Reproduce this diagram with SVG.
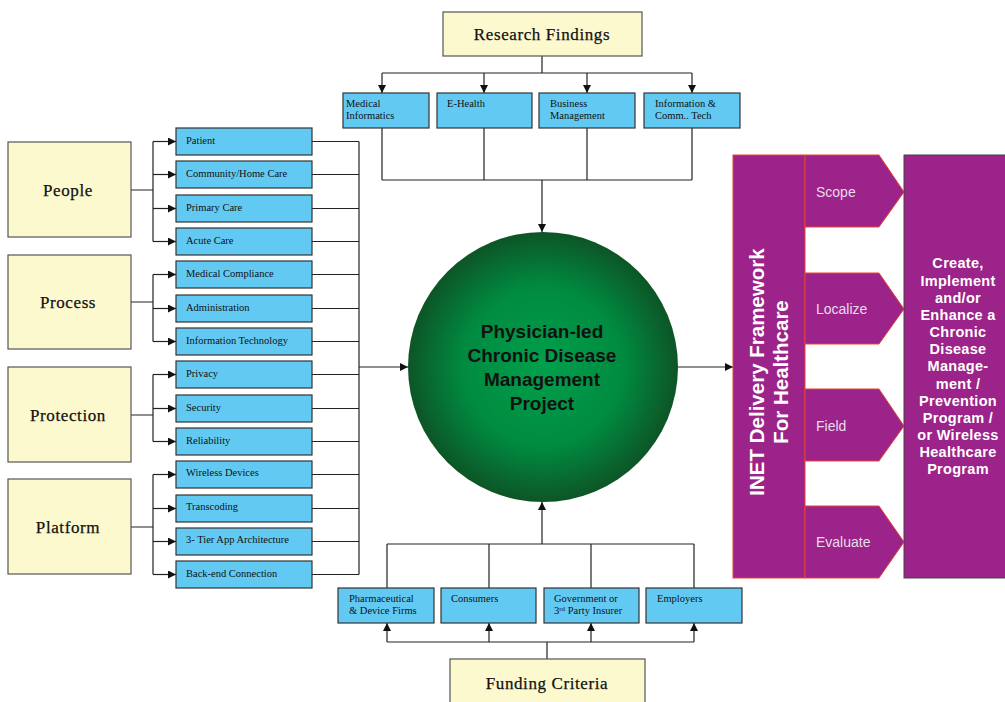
<svg xmlns="http://www.w3.org/2000/svg" width="1005" height="702" viewBox="0 0 1005 702">
<defs>
<style>
.cat{fill:#fcf9cf;stroke:#555;stroke-width:1.2}
.catt{font-family:"Liberation Serif",serif;font-size:17px;fill:#111;text-anchor:middle;letter-spacing:0.6px;stroke:#111;stroke-width:0.25}
.blue{fill:#62caf2;stroke:#333;stroke-width:1.2}
.bt{font-family:"Liberation Serif",serif;font-size:10.5px;fill:#111}
.ln{stroke:#222;stroke-width:1.2;fill:none}
.arr{stroke:#222;stroke-width:1.2;fill:none;marker-end:url(#ah)}
.pur{fill:#9b2389;stroke:#e8442e;stroke-width:1}
.tab{font-family:"Liberation Sans",sans-serif;font-size:14px;fill:#eadcea}
.wt{font-family:"Liberation Sans",sans-serif;font-size:14.5px;font-weight:bold;fill:#fff;text-anchor:middle;letter-spacing:0.3px}
.vt{font-family:"Liberation Sans",sans-serif;font-size:20.5px;font-weight:bold;fill:#fff;text-anchor:middle}
.ct{font-family:"Liberation Sans",sans-serif;font-size:19px;font-weight:bold;fill:#111;text-anchor:middle}
</style>
<marker id="ah" markerUnits="userSpaceOnUse" markerWidth="9" markerHeight="9" refX="8" refY="4" orient="auto"><path d="M0,0 L8,4 L0,8 z" fill="#111"/></marker>
<radialGradient id="cg" cx="50%" cy="50%" r="50%">
<stop offset="0" stop-color="#00a04c"/>
<stop offset="0.6" stop-color="#008a40"/>
<stop offset="1" stop-color="#0d5526"/>
</radialGradient>
</defs>

<g id="connectors">
<path class="ln" d="M542,56 V73 M382,73 H692"/>
<path class="arr" d="M382,73 V93"/>
<path class="arr" d="M484,73 V93"/>
<path class="arr" d="M587,73 V93"/>
<path class="arr" d="M692,73 V93"/>
<path class="ln" d="M382,128 V180 M484,128 V180 M587,128 V180 M692,128 V180 M382,180 H692"/>
<path class="arr" d="M542,180 V232"/>
<path class="ln" d="M547,659 V642 M387,642 H694"/>
<path class="arr" d="M387,642 V623"/>
<path class="arr" d="M489,642 V623"/>
<path class="arr" d="M591,642 V623"/>
<path class="arr" d="M694,642 V623"/>
<path class="ln" d="M387,588 V544 M489,588 V544 M591,588 V544 M694,588 V544 M387,544 H694"/>
<path class="arr" d="M542,544 V502"/>
<path class="ln" d="M131,190 H153 M153,141.5 V241.5"/>
<path class="arr" d="M153,141.5 H176"/>
<path class="arr" d="M153,174.5 H176"/>
<path class="arr" d="M153,208.5 H176"/>
<path class="arr" d="M153,241.5 H176"/>
<path class="ln" d="M131,302 H153 M153,274.5 V341.5"/>
<path class="arr" d="M153,274.5 H176"/>
<path class="arr" d="M153,308.5 H176"/>
<path class="arr" d="M153,341.5 H176"/>
<path class="ln" d="M131,415 H153 M153,374.5 V441.5"/>
<path class="arr" d="M153,374.5 H176"/>
<path class="arr" d="M153,408.5 H176"/>
<path class="arr" d="M153,441.5 H176"/>
<path class="ln" d="M131,527 H153 M153,474.5 V574.5"/>
<path class="arr" d="M153,474.5 H176"/>
<path class="arr" d="M153,508.5 H176"/>
<path class="arr" d="M153,541.5 H176"/>
<path class="arr" d="M153,574.5 H176"/>
<path class="ln" d="M312,141.5 H359 M312,174.5 H359 M312,208.5 H359 M312,241.5 H359 M312,274.5 H359 M312,308.5 H359 M312,341.5 H359 M312,374.5 H359 M312,408.5 H359 M312,441.5 H359 M312,474.5 H359 M312,508.5 H359 M312,541.5 H359 M312,574.5 H359 M359,141.5 V574.5"/>
<path class="arr" d="M359,367 H408"/>
<path class="arr" d="M678,367 H733"/>
</g>

<g id="research-findings">
<rect class="cat" x="443" y="12" width="199" height="44"/>
<text class="catt" x="542" y="40">Research Findings</text>
</g>
<g id="medical-informatics">
<rect class="blue" x="343" y="93" width="86" height="35"/>
<text class="bt" x="346" y="107">Medical</text>
<text class="bt" x="346" y="119">Informatics</text>
</g>
<g id="e-health">
<rect class="blue" x="437" y="93" width="95" height="35"/>
<text class="bt" x="447" y="107">E-Health</text>
</g>
<g id="business-management">
<rect class="blue" x="539" y="93" width="96" height="35"/>
<text class="bt" x="550" y="107">Business</text>
<text class="bt" x="550" y="119">Management</text>
</g>
<g id="ict">
<rect class="blue" x="644" y="93" width="96" height="35"/>
<text class="bt" x="655" y="107">Information &amp;</text>
<text class="bt" x="655" y="119">Comm.. Tech</text>
</g>

<g id="people">
<rect class="cat" x="8" y="142" width="123" height="95"/>
<text class="catt" x="68" y="196">People</text>
</g>
<g id="process">
<rect class="cat" x="8" y="255" width="123" height="94"/>
<text class="catt" x="68" y="308">Process</text>
</g>
<g id="protection">
<rect class="cat" x="8" y="367" width="123" height="95"/>
<text class="catt" x="68" y="421">Protection</text>
</g>
<g id="platform">
<rect class="cat" x="8" y="479" width="123" height="95"/>
<text class="catt" x="68" y="533">Platform</text>
</g>

<g id="patient"><rect class="blue" x="176" y="128" width="136" height="27"/><text class="bt" x="186" y="144">Patient</text></g>
<g id="community"><rect class="blue" x="176" y="161" width="136" height="27"/><text class="bt" x="186" y="177">Community/Home Care</text></g>
<g id="primary"><rect class="blue" x="176" y="195" width="136" height="27"/><text class="bt" x="186" y="211">Primary Care</text></g>
<g id="acute"><rect class="blue" x="176" y="228" width="136" height="27"/><text class="bt" x="186" y="244">Acute Care</text></g>
<g id="compliance"><rect class="blue" x="176" y="261" width="136" height="27"/><text class="bt" x="186" y="277">Medical Compliance</text></g>
<g id="administration"><rect class="blue" x="176" y="295" width="136" height="27"/><text class="bt" x="186" y="311">Administration</text></g>
<g id="infotech"><rect class="blue" x="176" y="328" width="136" height="27"/><text class="bt" x="186" y="344">Information Technology</text></g>
<g id="privacy"><rect class="blue" x="176" y="361" width="136" height="27"/><text class="bt" x="186" y="377">Privacy</text></g>
<g id="security"><rect class="blue" x="176" y="395" width="136" height="27"/><text class="bt" x="186" y="411">Security</text></g>
<g id="reliability"><rect class="blue" x="176" y="428" width="136" height="27"/><text class="bt" x="186" y="444">Reliability</text></g>
<g id="wireless"><rect class="blue" x="176" y="461" width="136" height="27"/><text class="bt" x="186" y="476">Wireless Devices</text></g>
<g id="transcoding"><rect class="blue" x="176" y="495" width="136" height="27"/><text class="bt" x="186" y="510">Transcoding</text></g>
<g id="three-tier"><rect class="blue" x="176" y="528" width="136" height="27"/><text class="bt" x="186" y="543">3- Tier App Architecture</text></g>
<g id="backend"><rect class="blue" x="176" y="561" width="136" height="27"/><text class="bt" x="186" y="577">Back-end Connection</text></g>

<g id="project">
<circle cx="543" cy="367" r="135" fill="url(#cg)"/>
<text class="ct" x="542" y="338">Physician-led</text>
<text class="ct" x="542" y="362">Chronic Disease</text>
<text class="ct" x="542" y="386">Management</text>
<text class="ct" x="542" y="410">Project</text>
</g>

<g id="pharma"><rect class="blue" x="338" y="588" width="96" height="35"/><text class="bt" x="349" y="602">Pharmaceutical</text><text class="bt" x="349" y="614">&amp; Device Firms</text></g>
<g id="consumers"><rect class="blue" x="441" y="588" width="95" height="35"/><text class="bt" x="451" y="602">Consumers</text></g>
<g id="government"><rect class="blue" x="544" y="588" width="95" height="35"/><text class="bt" x="554" y="602">Government or</text><text class="bt" x="554" y="614">3<tspan font-size="7" dy="-3">rd</tspan><tspan dy="3"> Party Insurer</tspan></text></g>
<g id="employers"><rect class="blue" x="646" y="588" width="96" height="35"/><text class="bt" x="657" y="602">Employers</text></g>

<g id="funding-criteria">
<rect class="cat" x="450" y="659" width="195" height="50"/>
<text class="catt" x="547" y="689">Funding Criteria</text>
</g>

<g id="inet-framework">
<rect class="pur" x="733" y="155" width="72" height="423"/>
<text class="vt" transform="translate(764,372) rotate(-90)">INET Delivery Framework</text>
<text class="vt" transform="translate(788,372) rotate(-90)">For Healthcare</text>
</g>
<g id="scope"><path class="pur" d="M805,155 H879 L904,192 L879,227 H805 Z"/><text class="tab" x="816" y="197">Scope</text></g>
<g id="localize"><path class="pur" d="M805,273 H879 L904,309 L879,344 H805 Z"/><text class="tab" x="816" y="314">Localize</text></g>
<g id="field"><path class="pur" d="M805,389 H879 L904,426 L879,461 H805 Z"/><text class="tab" x="816" y="431">Field</text></g>
<g id="evaluate"><path class="pur" d="M805,506 H879 L904,542 L879,578 H805 Z"/><text class="tab" x="816" y="547">Evaluate</text></g>

<g id="outcome">
<rect x="904" y="155" width="105" height="423" fill="#9b2389" stroke="#444" stroke-width="1"/>
<text class="wt" x="958" y="268">Create,</text>
<text class="wt" x="958" y="286">Implement</text>
<text class="wt" x="958" y="303">and/or</text>
<text class="wt" x="958" y="320">Enhance a</text>
<text class="wt" x="958" y="337">Chronic</text>
<text class="wt" x="958" y="354">Disease</text>
<text class="wt" x="958" y="371">Manage-</text>
<text class="wt" x="958" y="389">ment /</text>
<text class="wt" x="958" y="406">Prevention</text>
<text class="wt" x="958" y="423">Program /</text>
<text class="wt" x="958" y="440">or Wireless</text>
<text class="wt" x="958" y="457">Healthcare</text>
<text class="wt" x="958" y="474">Program</text>
</g>
</svg>
